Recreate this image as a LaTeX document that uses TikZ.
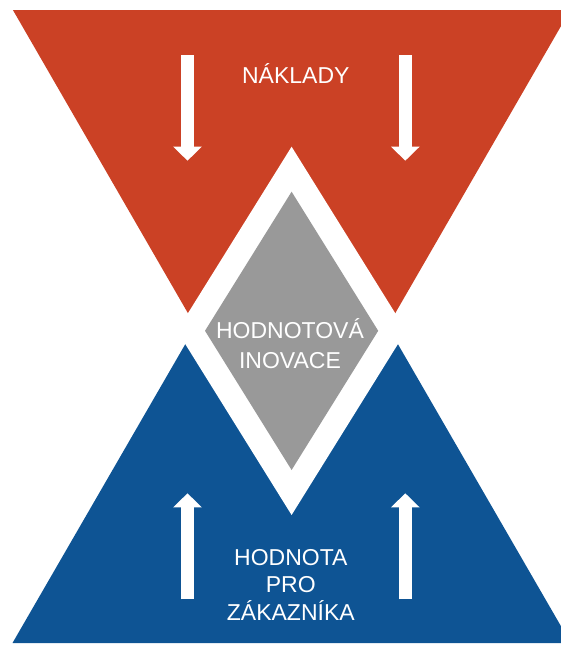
\documentclass[tikz,border=0pt]{standalone}
\usepackage{fontspec}
\setmainfont{Liberation Sans}
\usetikzlibrary{arrows.meta}
\definecolor{costred}{HTML}{CB4125}
\definecolor{valueblue}{HTML}{0E5494}
\definecolor{innogray}{HTML}{999999}
\tikzset{
  lbl/.style={text=white, inner sep=0pt, align=center, font=\fontsize{23}{30}\selectfont},
  lblb/.style={text=white, inner sep=0pt, align=center, font=\fontsize{23}{27.5}\selectfont},
  bigarrow/.style={draw=white, line width=13pt, -{Triangle[length=14pt, width=27.7pt]}},
}
\begin{document}
\begin{tikzpicture}[x=1pt, y=-1pt]
\useasboundingbox (0,0) rectangle (561,645);
\clip (0,0) rectangle (561,645);
% triangles
\fill[costred] (12.9,10) -- (570.3,10) -- (291.6,492.7) -- cycle;
\fill[valueblue] (12.5,643) -- (570.7,643) -- (291.6,160.3) -- cycle;
% white diamond gap
\fill[white] (291.6,146.7) -- (177,330.8) -- (291.6,515) -- (406.2,330.8) -- cycle;
% gray diamond
\fill[innogray] (291.6,191.7) -- (205,330.8) -- (291.6,470) -- (378.2,330.8) -- cycle;
% arrows
\coordinate (tls) at (187.5,55);   \coordinate (tle) at (187.5,160.7);
\coordinate (trs) at (405.3,55);   \coordinate (tre) at (405.3,160.7);
\coordinate (bls) at (187.5,599.3); \coordinate (ble) at (187.5,493.3);
\coordinate (brs) at (405.3,599.3); \coordinate (bre) at (405.3,493.3);
\draw[bigarrow] (tls) -- (tle);
\draw[bigarrow] (trs) -- (tre);
\draw[bigarrow] (bls) -- (ble);
\draw[bigarrow] (brs) -- (bre);
% labels (base anchor = baseline of last line)
\node[lbl, anchor=base] (naklady) at (295.8,83.3) {NÁKLADY};
\node[lbl, anchor=base] (inovace) at (290,368.3) {HODNOTOVÁ\\INOVACE};
\node[lblb, anchor=base] (hodnota) at (290.8,620) {HODNOTA\\PRO\\ZÁKAZNÍKA};
\end{tikzpicture}
\end{document}
